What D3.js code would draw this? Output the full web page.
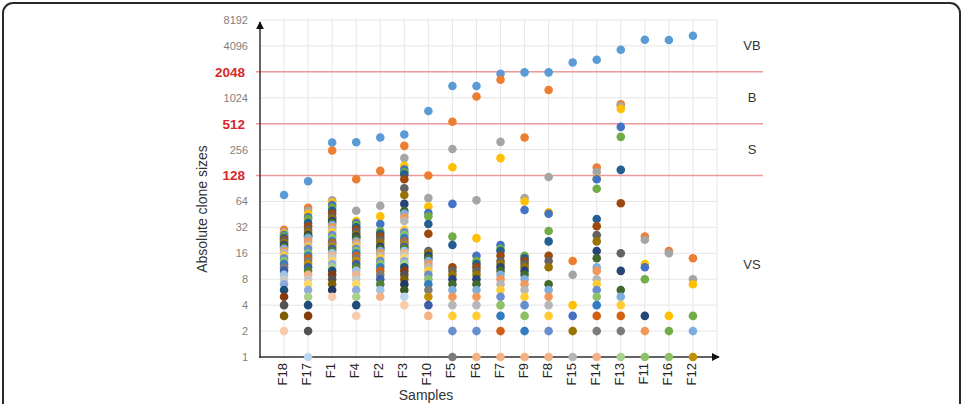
<!DOCTYPE html>
<html>
<head>
<meta charset="utf-8">
<script src="https://cdn.jsdelivr.net/npm/d3@7"></script>
<style>
  body { margin: 0; background: #fff; font-family: "Liberation Sans", Arial, sans-serif; }
</style>
</head>
<body>
<script>
// DATA
const samples = ["F18", "F17", "F1", "F4", "F2", "F3", "F10", "F5", "F6", "F7", "F9", "F8", "F15", "F14", "F13", "F11", "F16", "F12"];

// clone sizes per sample, largest clone first (ties sit on top of each other)
const F18 = [76, 30, 28, 27, 26, 25, 24, 23, 22, 21, 20, 19, 18, 17, 16, 15, 14, 13, 12, 11, 11, 10, 10, 9, 9, 8, 8, 7, 7, 6, 6, 5, 4, 3, 2, 2, 2, 2];
const F17 = [110, 54, 50, 46, 42, 40, 36, 33, 30, 28, 26, 25, 24, 22, 20, 19, 18, 16, 15, 14, 13, 12, 11, 10, 9, 9, 8, 7, 6, 5, 4, 3, 2, 1, 1, 1, 1];
const F1  = [309, 250, 66, 62, 58, 54, 50, 46, 42, 40, 38, 36, 34, 32, 30, 28, 26, 24, 22, 21, 20, 19, 18, 17, 16, 15, 14, 13, 12, 11, 10, 9, 8, 7, 6, 5, 5, 5];
const F4  = [312, 116, 50, 38, 36, 34, 32, 30, 28, 26, 25, 24, 22, 21, 20, 19, 18, 17, 16, 15, 14, 13, 12, 11, 10, 9, 8, 7, 6, 5, 4, 3, 3, 3, 3, 3, 3, 3];
const F2  = [354, 145, 57, 43, 35, 29, 27, 25, 23, 21, 19, 18, 17, 16, 15, 14, 13, 12, 11, 10, 9, 8, 8, 7, 6, 5];
const F3  = [383, 283, 204, 166, 150, 140, 132, 116, 91, 76, 60, 50, 46, 42, 38, 30, 28, 26, 24, 22, 21, 20, 19, 18, 17, 16, 15, 14, 13, 12, 11, 10, 9, 8, 7, 6, 5, 4];
const F10 = [720, 128, 70, 56, 47, 43, 35, 27, 17, 16, 15, 14, 13, 12, 11, 10, 9, 8, 7, 6, 6, 5, 4, 3, 3, 3];
const F5  = [1400, 540, 260, 160, 60, 25, 20, 11, 10, 9, 8, 7, 6, 5, 4, 3, 2, 1, 1, 1, 1];
const F6  = [1400, 1060, 66, 24, 15, 13, 12, 11, 10, 9, 8, 7, 6, 5, 4, 3, 2, 1, 1, 1, 1, 1, 1, 1, 1, 1];
const F7  = [1950, 1660, 315, 204, 20, 18, 17, 15, 13, 12, 11, 10, 9, 8, 7, 6, 5, 4, 3, 2, 1, 1, 1, 1, 1, 1];
const F9  = [2020, 354, 70, 64, 51, 15, 14, 13, 12, 11, 10, 9, 8, 7, 6, 5, 4, 3, 2, 1, 1, 1, 1, 1, 1, 1];
const F8  = [2020, 1260, 123, 48, 46, 29, 22, 15, 13, 11, 7, 7, 6, 5, 4, 3, 2, 1, 1, 1, 1, 1, 1, 1, 1, 1];
const F15 = [2630, 13, 9, 4, 3, 2, 2, 2, 2, 2, 1, 1, 1, 1, 1];
const F14 = [2830, 159, 141, 118, 116, 90, 40, 33, 26, 22, 17, 14, 11, 10, 8, 7, 6, 5, 4, 3, 2, 1, 1, 1, 1, 1];
const F13 = [3700, 860, 820, 760, 470, 360, 149, 61, 16, 10, 10, 6, 5, 4, 4, 4, 3, 3, 3, 3, 2, 1, 1, 1, 1, 1, 1, 1, 1, 1];
const F11 = [4830, 25, 23, 12, 11, 8, 3, 3, 3, 3, 3, 2, 2, 2, 1, 1, 1, 1];
const F16 = [4800, 17, 16, 3, 2, 2, 1, 1, 1, 1, 1, 1, 1, 1, 1, 1, 1, 1];
const F12 = [5370, 14, 8, 7, 3, 3, 2, 2, 2, 2, 2, 2, 2, 1, 1, 1, 1, 1, 1, 1, 1, 1];
const cloneSizes = [F18, F17, F1, F4, F2, F3, F10, F5, F6, F7, F9, F8, F15, F14, F13, F11, F16, F12];

const yTicks = [1, 2, 4, 8, 16, 32, 64, 128, 256, 512, 1024, 2048, 4096, 8192];
const thresholds = [128, 512, 2048];
const classNames = ["VB", "B", "S", "VS"];
const classCentres = [4096, 1024, 256, 12];

// excel-like series colours, one per clone rank
const palette = ["#5B9BD5", "#ED7D31", "#A5A5A5", "#FFC000", "#4472C4", "#70AD47",
  "#255E91", "#9E480E", "#636363", "#997300", "#264478", "#43682B",
  "#7CAFDD", "#F1975A", "#B7B7B7", "#FFCD33", "#698ED0", "#8CC168",
  "#327DC2", "#D26012", "#7B7B7B", "#BF9000", "#3A5FA8", "#548235",
  "#9DC3E6", "#F4B183", "#C9C9C9", "#FFD966", "#8FAADC", "#A9D18E",
  "#1F4E79", "#843C0C", "#525252", "#7F6000", "#203864", "#385723",
  "#BDD7EE", "#F8CBAD", "#DBDBDB", "#FFE699", "#B4C7E7", "#C5E0B4"];

// D3
const svg = d3.select("body").append("svg")
  .attr("width", 965)
  .attr("height", 404);

const plot = {left: 260, right: 717, top: 20, bottom: 357};

const x = d3.scalePoint()
  .domain(samples)
  .range([plot.left, plot.right])
  .padding(1);

const y = d3.scaleLog()
  .base(2)
  .domain([1, 8192])
  .range([plot.bottom, plot.top]);

// frame
svg.append("rect")
  .attr("x", 3).attr("y", 3)
  .attr("width", 957).attr("height", 440)
  .attr("rx", 10)
  .attr("fill", "none")
  .attr("stroke", "#2a2a2a")
  .attr("stroke-width", 2);

// arrow heads
const defs = svg.append("defs");
defs.append("marker")
  .attr("id", "arrow")
  .attr("viewBox", "0 0 10 10")
  .attr("refX", 9).attr("refY", 5)
  .attr("markerWidth", 8).attr("markerHeight", 8)
  .attr("markerUnits", "userSpaceOnUse")
  .attr("orient", "auto")
  .append("path")
  .attr("d", "M0,0L10,5L0,10Z")
  .attr("fill", "#111");

// grid
const grid = svg.append("g");
grid.selectAll(".hg").data(yTicks).enter().append("line")
  .attr("x1", plot.left).attr("x2", plot.right)
  .attr("y1", d => y(d)).attr("y2", d => y(d))
  .attr("stroke", "#e6e6e6");
grid.selectAll(".vg").data(samples).enter().append("line")
  .attr("x1", d => x(d)).attr("x2", d => x(d))
  .attr("y1", plot.top).attr("y2", plot.bottom)
  .attr("stroke", "#e6e6e6");
grid.append("line")
  .attr("x1", plot.right).attr("x2", plot.right)
  .attr("y1", plot.top).attr("y2", plot.bottom)
  .attr("stroke", "#e6e6e6");

// threshold lines
svg.selectAll(".thr").data(thresholds).enter().append("line")
  .attr("x1", plot.left - 4).attr("x2", 763)
  .attr("y1", d => y(d)).attr("y2", d => y(d))
  .attr("stroke", "#ee9a9a")
  .attr("stroke-width", 1.5);

// y axis labels
const yAxis = svg.append("g")
  .attr("transform", "translate(" + plot.left + ",0)")
  .call(d3.axisLeft(y).tickValues(yTicks).tickFormat(d3.format("d")).tickSize(0).tickPadding(12));
yAxis.select(".domain").remove();
yAxis.selectAll("text")
  .attr("font-family", "Liberation Sans, Arial, sans-serif")
  .attr("font-size", 11)
  .attr("fill", "#7f7f7f");
yAxis.selectAll(".tick")
  .filter(d => thresholds.includes(d))
  .select("text")
  .attr("x", -15)
  .attr("font-size", 13.5)
  .attr("font-weight", "bold")
  .attr("fill", "#d9262b");

// x axis labels
const xAxis = svg.append("g")
  .attr("transform", "translate(0," + plot.bottom + ")")
  .call(d3.axisBottom(x).tickSize(0));
xAxis.select(".domain").remove();
xAxis.selectAll("text")
  .attr("font-family", "Liberation Sans, Arial, sans-serif")
  .attr("font-size", 13)
  .attr("fill", "#222")
  .attr("text-anchor", "end")
  .attr("transform", "rotate(-90)")
  .attr("x", -6)
  .attr("y", -2)
  .attr("dy", "0.35em");

// axis lines with arrows
svg.append("line")
  .attr("x1", plot.left).attr("x2", plot.left)
  .attr("y1", plot.bottom + 1).attr("y2", 22)
  .attr("stroke", "#333").attr("stroke-width", 1.5)
  .attr("marker-end", "url(#arrow)");
svg.append("line")
  .attr("x1", plot.left - 1).attr("x2", plot.right + 2)
  .attr("y1", plot.bottom).attr("y2", plot.bottom)
  .attr("stroke", "#333").attr("stroke-width", 1.5)
  .attr("marker-end", "url(#arrow)");

// dots: tied clones share one spot, the last-ranked one is the one seen
const dots = [];
samples.forEach((s, i) => {
  const top = d3.rollup(cloneSizes[i].map((v, j) => ({v, j})), g => d3.max(g, e => e.j), e => e.v);
  top.forEach((rank, value) => dots.push({sample: s, value, rank}));
});
dots.sort((a, b) => a.rank - b.rank);

svg.append("g").selectAll("circle")
  .data(dots)
  .enter().append("circle")
  .attr("cx", d => x(d.sample))
  .attr("cy", d => y(d.value))
  .attr("r", 4.3)
  .attr("fill", d => palette[d.rank % palette.length]);

// class labels
svg.selectAll(".cls").data(classNames).enter().append("text")
  .attr("x", 752)
  .attr("y", (d, i) => y(classCentres[i]))
  .attr("dy", "0.35em")
  .attr("text-anchor", "middle")
  .attr("font-size", 13)
  .attr("fill", "#333")
  .text(d => d);

// axis titles
svg.append("text")
  .attr("transform", "translate(207,209) rotate(-90)")
  .attr("text-anchor", "middle")
  .attr("font-size", 14)
  .attr("fill", "#333")
  .text("Absolute clone sizes");
svg.append("text")
  .attr("x", 426)
  .attr("y", 400)
  .attr("text-anchor", "middle")
  .attr("font-size", 14)
  .attr("fill", "#333")
  .text("Samples");
</script>
</body>
</html>
